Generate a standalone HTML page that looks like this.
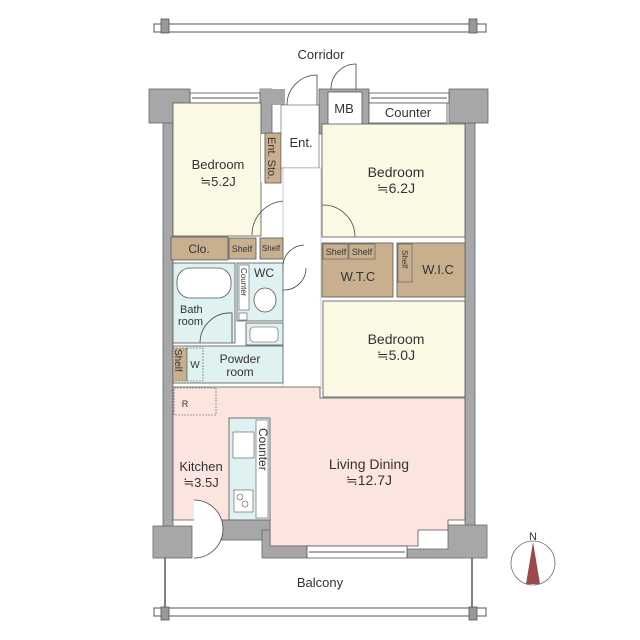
<!DOCTYPE html>
<html><head><meta charset="utf-8"><style>
html,body{margin:0;padding:0;background:#fff;}
svg{display:block;}
text{font-family:"Liberation Sans",sans-serif;fill:#333;}
</style></head><body>
<svg width="640" height="640" viewBox="0 0 640 640" xmlns="http://www.w3.org/2000/svg">
<!-- top rail -->
<rect x="154" y="24" width="332" height="8" fill="#fff" stroke="#555" stroke-width="1"/>
<rect x="161" y="19" width="8" height="14" fill="#999" stroke="#555" stroke-width="0.8"/>
<rect x="469" y="19" width="8" height="14" fill="#999" stroke="#555" stroke-width="0.8"/>
<text x="321" y="59" font-size="13" text-anchor="middle">Corridor</text>

<!-- outer walls -->
<rect x="163" y="100" width="10" height="430" fill="#a7a7a9" stroke="#666" stroke-width="0.8"/>
<rect x="465" y="100" width="10" height="430" fill="#a7a7a9" stroke="#666" stroke-width="0.8"/>
<rect x="149" y="89" width="41" height="34" fill="#a7a7a9" stroke="#666" stroke-width="0.8"/>
<rect x="449" y="89" width="39" height="34" fill="#a7a7a9" stroke="#666" stroke-width="0.8"/>
<rect x="260" y="89" width="12" height="45" fill="#a7a7a9" stroke="#666" stroke-width="0.8"/>
<rect x="260" y="89" width="25" height="16" fill="#a7a7a9"/>
<rect x="319" y="89" width="50" height="45" fill="#a7a7a9" stroke="#666" stroke-width="0.8"/>
<!-- windows top -->
<rect x="190" y="93" width="70" height="10" fill="#fff" stroke="#555" stroke-width="0.8"/>
<line x1="192" y1="98" x2="258" y2="98" stroke="#555"/>
<rect x="369" y="93" width="80" height="10" fill="#fff" stroke="#555" stroke-width="0.8"/>
<line x1="371" y1="98" x2="447" y2="98" stroke="#555"/>

<!-- Bedroom 5.2 -->
<rect x="173" y="103" width="88" height="133" fill="#fbf8e4" stroke="#555" stroke-width="0.8"/>
<polygon points="261,134 281,134 281,182 261,182" fill="#fff"/>
<rect x="265" y="133" width="16" height="50" fill="#c8b08f" stroke="#555" stroke-width="0.8"/>
<text transform="translate(268,137) rotate(90)" font-size="11">Ent. Sto.</text>
<text x="218" y="169" font-size="13" text-anchor="middle">Bedroom</text>
<text x="218" y="186" font-size="13" text-anchor="middle">≒5.2J</text>
<!-- Ent -->
<rect x="281" y="105" width="38" height="63" fill="#fff" stroke="#555" stroke-width="0.6"/>
<text x="301" y="147" font-size="13" text-anchor="middle">Ent.</text>
<path d="M287 105 A30 30 0 0 1 317 75 L317 105" fill="none" stroke="#444" stroke-width="0.8"/>
<path d="M331 89 A25 25 0 0 1 356 64 L356 89" fill="none" stroke="#444" stroke-width="0.8"/>
<rect x="328" y="92" width="34" height="33" fill="#fff" stroke="#555" stroke-width="0.8"/>
<text x="344" y="113" font-size="13" text-anchor="middle">MB</text>
<rect x="369" y="103" width="78" height="20" fill="#fff" stroke="#555" stroke-width="0.8"/>
<text x="408" y="117" font-size="13" text-anchor="middle">Counter</text>
<!-- Bedroom 6.2 -->
<rect x="322" y="124" width="143" height="113" fill="#fbf8e4" stroke="#555" stroke-width="0.8"/>
<text x="396" y="177" font-size="14" text-anchor="middle">Bedroom</text>
<text x="396" y="193" font-size="14" text-anchor="middle">≒6.2J</text>
<path d="M322 205 A32 32 0 0 1 355 237" fill="none" stroke="#444" stroke-width="0.8"/>
<path d="M252 235 A34 34 0 0 1 284 201" fill="none" stroke="#444" stroke-width="0.8"/>
<!-- hallway -->
<rect x="283" y="168" width="38" height="220" fill="#fff" stroke="#999" stroke-width="0.5"/>
<!-- closets -->
<rect x="171" y="237" width="57" height="23" fill="#c8b08f" stroke="#555" stroke-width="0.8"/>
<text x="199" y="253" font-size="12" text-anchor="middle">Clo.</text>
<rect x="229" y="238" width="27" height="21" fill="#c8b08f" stroke="#555" stroke-width="0.8"/>
<text x="242" y="252" font-size="9" text-anchor="middle">Shelf</text>
<rect x="260" y="238" width="23" height="21" fill="#c8b08f" stroke="#555" stroke-width="0.8"/>
<text x="271" y="251" font-size="8" text-anchor="middle">Shelf</text>
<!-- bath -->
<rect x="173" y="263" width="62" height="80" fill="#dff1f1" stroke="#555" stroke-width="0.8"/>
<rect x="177" y="268" width="54" height="30" rx="13" fill="#fff" stroke="#555" stroke-width="0.8"/>
<text x="180" y="313" font-size="11">Bath</text>
<text x="178" y="325" font-size="11">room</text>
<path d="M200 343 A30 30 0 0 1 232 313 L232 343" fill="none" stroke="#444" stroke-width="0.8"/>
<rect x="237" y="263" width="46" height="58" fill="#dff1f1" stroke="#555" stroke-width="0.8"/>
<rect x="239" y="265" width="10" height="45" fill="#fff" stroke="#555" stroke-width="0.6"/>
<text transform="translate(241,268) rotate(90)" font-size="8">Counter</text>
<text x="264" y="277" font-size="12" text-anchor="middle">WC</text>
<ellipse cx="265" cy="300" rx="11" ry="12" fill="#fff" stroke="#555" stroke-width="0.8"/>
<rect x="239" y="313" width="8" height="7" fill="#fff" stroke="#555" stroke-width="0.6"/>
<rect x="246" y="323" width="37" height="22" fill="#dff1f1" stroke="#555" stroke-width="0.8"/>
<rect x="250" y="327" width="28" height="15" rx="4" fill="#fff" stroke="#555" stroke-width="0.6"/>
<!-- powder -->
<rect x="173" y="346" width="110" height="37" fill="#dff1f1" stroke="#555" stroke-width="0.8"/>
<rect x="173" y="348" width="14" height="33" fill="#c8b08f" stroke="#555" stroke-width="0.6" stroke-dasharray="2 1"/>
<text transform="translate(175,349) rotate(90)" font-size="10">Shelf</text>
<rect x="187" y="348" width="16" height="33" fill="none" stroke="#555" stroke-width="0.6" stroke-dasharray="2 1"/>
<text x="195" y="368" font-size="10" text-anchor="middle">W</text>
<text x="240" y="363" font-size="12" text-anchor="middle">Powder</text>
<text x="240" y="376" font-size="12" text-anchor="middle">room</text>
<!-- doors in hallway -->
<path d="M283 265 A22 22 0 0 1 304 245" fill="none" stroke="#444" stroke-width="0.8"/>
<path d="M283 290 A22 22 0 0 0 306 268" fill="none" stroke="#444" stroke-width="0.8"/>
<!-- WTC/WIC -->
<rect x="322" y="243" width="71" height="54" fill="#c8b08f" stroke="#555" stroke-width="0.8"/>
<rect x="323" y="244" width="25" height="15" fill="#c8b08f" stroke="#555" stroke-width="0.6"/>
<rect x="349" y="244" width="26" height="15" fill="#c8b08f" stroke="#555" stroke-width="0.6"/>
<text x="336" y="255" font-size="9" text-anchor="middle">Shelf</text>
<text x="362" y="255" font-size="9" text-anchor="middle">Shelf</text>
<text x="358" y="281" font-size="13" text-anchor="middle">W.T.C</text>
<rect x="397" y="243" width="68" height="54" fill="#c8b08f" stroke="#555" stroke-width="0.8"/>
<rect x="398" y="244" width="14" height="38" fill="#c8b08f" stroke="#555" stroke-width="0.6"/>
<text transform="translate(402,250) rotate(90)" font-size="8">Shelf</text>
<text x="438" y="274" font-size="13" text-anchor="middle">W.I.C</text>
<!-- Bedroom 5.0 -->
<rect x="323" y="301" width="142" height="96" fill="#fbf8e4" stroke="#555" stroke-width="0.8"/>
<text x="396" y="344" font-size="14" text-anchor="middle">Bedroom</text>
<text x="396" y="360" font-size="14" text-anchor="middle">≒5.0J</text>
<!-- living -->
<polygon points="173,387 320,387 320,398 465,398 465,520 448,520 448,530 418,530 418,546 270,546 270,520 173,520" fill="#fbe5de" stroke="#555" stroke-width="0.8"/>
<rect x="174" y="388" width="42" height="27" fill="none" stroke="#555" stroke-width="0.6" stroke-dasharray="2 1"/>
<text x="185" y="407" font-size="9" text-anchor="middle">R</text>
<rect x="229" y="418" width="41" height="102" fill="#dff1f1" stroke="#555" stroke-width="0.8"/>
<rect x="256" y="420" width="12" height="98" fill="#fff" stroke="#555" stroke-width="0.6"/>
<text transform="translate(259,428) rotate(90)" font-size="12">Counter</text>
<rect x="233" y="432" width="21" height="26" fill="#fff" stroke="#555" stroke-width="0.6"/>
<rect x="234" y="490" width="19" height="22" fill="#fff" stroke="#555" stroke-width="0.6"/>
<circle cx="240" cy="497" r="3" fill="none" stroke="#555" stroke-width="0.6"/>
<circle cx="245" cy="504" r="3" fill="none" stroke="#555" stroke-width="0.6"/>
<text x="201" y="471" font-size="13" text-anchor="middle">Kitchen</text>
<text x="201" y="487" font-size="13" text-anchor="middle">≒3.5J</text>
<text x="369" y="469" font-size="14" text-anchor="middle">Living Dining</text>
<text x="369" y="485" font-size="14" text-anchor="middle">≒12.7J</text>
<!-- bottom walls -->
<rect x="153" y="526" width="39" height="32" fill="#a7a7a9" stroke="#666" stroke-width="0.8"/>
<rect x="220" y="520" width="50" height="20" fill="#a7a7a9" stroke="#666" stroke-width="0.8"/>
<polygon points="262,530 270,530 270,546 307,546 307,558 262,558" fill="#a7a7a9" stroke="#666" stroke-width="0.8"/>
<polygon points="407,549 448,549 448,525 487,525 487,558 407,558" fill="#a7a7a9" stroke="#666" stroke-width="0.8"/>
<rect x="307" y="546" width="100" height="12" fill="#fff" stroke="#555" stroke-width="0.8"/>
<line x1="309" y1="552" x2="405" y2="552" stroke="#555"/>
<path d="M194 558 A22 22 0 0 0 194 500" fill="#fff" stroke="#444" stroke-width="0.8"/>
<!-- balcony -->
<line x1="165" y1="558" x2="165" y2="610" stroke="#555" stroke-width="1.5"/>
<line x1="472" y1="558" x2="472" y2="610" stroke="#555" stroke-width="1.5"/>
<text x="320" y="587" font-size="13" text-anchor="middle">Balcony</text>
<rect x="154" y="608" width="332" height="8" fill="#fff" stroke="#555" stroke-width="1"/>
<rect x="161" y="607" width="8" height="13" fill="#999" stroke="#555" stroke-width="0.8"/>
<rect x="469" y="607" width="8" height="13" fill="#999" stroke="#555" stroke-width="0.8"/>
<!-- compass -->
<circle cx="533" cy="563" r="22" fill="#fff" stroke="#777" stroke-width="0.8"/>
<polygon points="533,542 526,584 540,584" fill="#9a4a4a"/>
<text x="533" y="540" font-size="11" text-anchor="middle">N</text>
</svg>
</body></html>
